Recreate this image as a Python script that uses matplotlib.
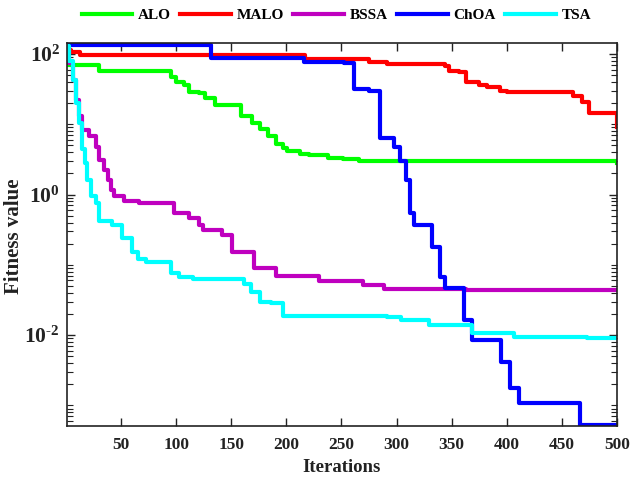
import matplotlib
matplotlib.use("Agg")
import matplotlib.pyplot as plt
from matplotlib.ticker import LogLocator, NullFormatter, FixedLocator, FixedFormatter

# ---- data (iteration breakpoints, best fitness from that iteration on) ----
alo_it  = [1, 2, 30, 95, 100, 107, 112, 121, 126, 135, 159, 169, 176, 183, 191, 197, 201, 212, 221, 238, 251, 266, 302, 500]
alo_val = [130, 70, 58, 47.7, 40.5, 36.4, 29.2, 27.7, 23.5, 18.9, 12.9, 10.4, 8.5, 6.84, 5.26, 4.57, 4.2, 3.79, 3.64, 3.3, 3.16, 3.0, 2.95, 2.8]

malo_it  = [1, 5, 13, 217, 275, 291, 344, 348, 357, 363, 375, 382, 394, 400, 460, 468, 475, 499, 500]
malo_val = [112, 105, 96, 84, 78, 73, 67.8, 58, 54.5, 40.5, 36.3, 33.3, 29.8, 28.6, 24.8, 21, 14.4, 14.4, 9.1]

bssa_it  = [1, 3, 6, 9, 12, 15, 21, 27, 30, 35, 38, 41, 44, 53, 66, 98, 112, 121, 124, 142, 151, 171, 191, 230, 270, 289, 363, 500]
bssa_val = [130, 75, 43, 22, 12.9, 8.3, 6.7, 4.8, 3.1, 2.25, 1.6, 1.17, 0.94, 0.82, 0.76, 0.54, 0.46, 0.37, 0.315, 0.27, 0.154, 0.09, 0.07, 0.058, 0.051, 0.0458, 0.0435, 0.0435]

choa_it  = [1, 132, 216, 252, 261, 275, 285, 298, 303, 309, 312, 316, 332, 339, 344, 353, 361, 368, 395, 403, 411, 466, 500]
choa_val = [132, 87, 78, 74, 31.6, 29.8, 6.34, 4.7, 2.95, 1.62, 0.55, 0.37, 0.18, 0.068, 0.0475, 0.0465, 0.0165, 0.0084, 0.0042, 0.00176, 0.00108, 0.00052, 0.00052]

tsa_it  = [1, 3, 6, 9, 12, 15, 17, 19, 23, 27, 30, 42, 51, 60, 65, 73, 95, 103, 115, 162, 168, 176, 186, 197, 291, 304, 329, 368, 407, 473, 500]
tsa_val = [130, 80, 43, 20, 10.4, 4.5, 2.8, 1.6, 0.94, 0.76, 0.42, 0.37, 0.24, 0.154, 0.12, 0.11, 0.077, 0.068, 0.062, 0.054, 0.0415, 0.0297, 0.0285, 0.0188, 0.018, 0.0165, 0.014, 0.0106, 0.0094, 0.0091, 0.0091]

names  = ["ALO", "MALO", "BSSA", "ChOA", "TSA"]
colors = ["#00ff00", "#ff0000", "#bf00bf", "#0000ff", "#00ffff"]
series = [(alo_it, alo_val), (malo_it, malo_val), (bssa_it, bssa_val),
          (choa_it, choa_val), (tsa_it, tsa_val)]

xticks = [50, 100, 150, 200, 250, 300, 350, 400, 450, 500]
yticks = [1e-2, 1e0, 1e2]
ytick_labels = [r'$10^{\text{-}2}$', r'$10^{0}$', r'$10^{2}$']

plt.rcParams['font.family'] = ['Liberation Serif', 'DejaVu Serif']
plt.rcParams['font.weight'] = 'bold'
plt.rcParams['mathtext.fontset'] = 'custom'
plt.rcParams['mathtext.rm'] = 'Liberation Serif:bold'
plt.rcParams['mathtext.it'] = 'Liberation Serif:bold'
plt.rcParams['mathtext.bf'] = 'Liberation Serif:bold'
plt.rcParams['mathtext.default'] = 'rm'

fig = plt.figure(figsize=(6.3, 4.86), dpi=100)
ax = fig.add_axes([67/630, 1 - 426/486, 550/630, 383/486])

for (it, val), nm, c in zip(series, names, colors):
    ax.plot(it, val, drawstyle='steps-post', color=c, lw=3, label=nm)

ax.set_yscale('log')
ax.set_xlim(1, 500)
ax.set_ylim(5.1e-4, 143)

ax.xaxis.set_major_locator(FixedLocator(xticks))
ax.set_xticklabels([str(t) for t in xticks])
ax.yaxis.set_major_locator(FixedLocator(yticks))
ax.yaxis.set_major_formatter(FixedFormatter(ytick_labels))
ax.yaxis.set_minor_locator(LogLocator(base=10, subs=range(1, 10), numticks=20))
ax.yaxis.set_minor_formatter(NullFormatter())

ax.tick_params(which='both', direction='in', top=True, right=True, color='#222222',
               labelcolor='#222222')
ax.tick_params(which='major', length=6, width=1)
ax.tick_params(which='minor', length=4, width=0.8)
ax.tick_params(axis='x', pad=8, labelsize=12.5)
ax.tick_params(axis='y', pad=5, labelsize=15.5)
for s in ax.spines.values():
    s.set_linewidth(1.2)
    s.set_color('#222222')

ax.set_xlabel('Iterations', fontsize=13.5, fontweight='bold', color='#222222')
ax.set_ylabel('Fitness value', fontsize=15, fontweight='bold', color='#222222')
ax.xaxis.set_label_coords(0.5, -0.085)
ax.yaxis.set_label_coords(-0.078, 0.496)

ax.legend(loc='center', bbox_to_anchor=(0.49, 1.073), ncol=5, frameon=False,
          handlelength=3.3, columnspacing=0.6, handletextpad=0.4,
          prop={'weight': 'bold', 'size': 11})

fig.savefig('out.png', dpi=100)
